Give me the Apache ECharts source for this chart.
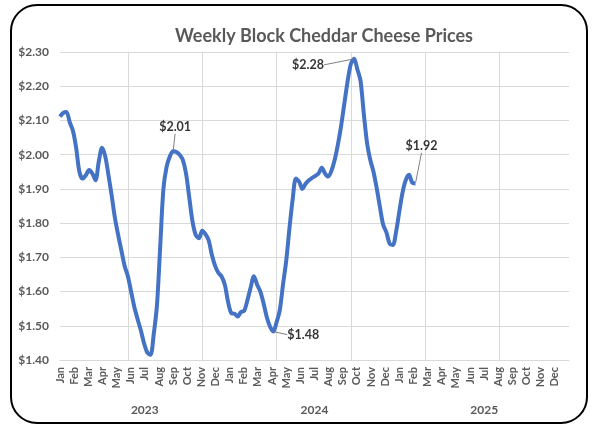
<!DOCTYPE html>
<html>
<head>
<meta charset="utf-8">
<script src="https://cdn.jsdelivr.net/npm/echarts@6/dist/echarts.min.js"></script>
<style>
html,body{margin:0;padding:0;background:#fff;}
#chart{width:600px;height:432px;}
</style>
</head>
<body>
<div id="chart"></div>
<script>
// Weekly block cheddar prices ($/lb), week 0 = first week of Jan 2023
const prices = [
  2.111,2.122,2.125,2.095,2.07,2.02,1.95,1.93,1.94,1.955,
  1.945,1.925,1.98,2.02,1.995,1.94,1.88,1.815,1.765,1.72,
  1.675,1.645,1.60,1.555,1.52,1.487,1.449,1.422,1.415,1.475,
  1.56,1.73,1.90,1.965,1.995,2.01,2.008,2.00,1.985,1.945,
  1.875,1.805,1.765,1.756,1.778,1.768,1.75,1.707,1.675,1.655,
  1.644,1.62,1.57,1.537,1.535,1.527,1.54,1.544,1.575,1.612,
  1.645,1.62,1.60,1.565,1.525,1.497,1.483,1.51,1.545,1.62,
  1.69,1.785,1.87,1.93,1.921,1.90,1.915,1.925,1.932,1.938,
  1.945,1.962,1.945,1.936,1.953,1.985,2.03,2.085,2.15,2.215,
  2.265,2.28,2.25,2.215,2.12,2.035,1.985,1.95,1.902,1.847,
  1.795,1.773,1.74,1.736,1.775,1.834,1.89,1.926,1.941,1.918,
  1.916
];
const monthNames = ['Jan','Feb','Mar','Apr','May','Jun','Jul','Aug','Sep','Oct','Nov','Dec'];
const years = ['2023','2024','2025'];
const labelledWeeks = [35, 66, 91, 110];
const yTicks = [1.40,1.50,1.60,1.70,1.80,1.90,2.00,2.10,2.20,2.30];

// layout / style settings
const WEEK_SPAN = 157.5;            // weeks covered by the 36-month axis
const labelOffsets = [[2,-24],[30,3],[-46,6],[6,-37]];
const gridFirst = 21, gridStep = 23; // vertical gridline placement (weeks)
const gridWeeks = [];
for (let g = gridFirst; g < WEEK_SPAN; g += gridStep) gridWeeks.push(g);

const lineData = prices.map((v, i) => [i, v]);
const pointData = labelledWeeks.map(i => [i, prices[i]]);

const chart = echarts.init(document.getElementById('chart'));
const grey = '#595959';
const font = 'Lato';

chart.setOption({
  backgroundColor: '#ffffff',
  animation: false,
  textStyle: { fontFamily: font },
  title: {
    text: 'Weekly Block Cheddar Cheese Prices',
    left: 170, top: 22,
    textStyle: { fontFamily: font, fontSize: 18, fontWeight: 'bold', color: grey }
  },
  graphic: [{
    type: 'rect', silent: true, z: -1,
    shape: { x: 11, y: 5, width: 576, height: 418, r: 26 },
    style: { fill: 'none', stroke: '#000', lineWidth: 2 }
  }],
  grid: { left: 60, right: 31, top: 52, bottom: 72, containLabel: false },
  xAxis: [
    { // data axis (weeks)
      type: 'value', min: 0, max: WEEK_SPAN, show: false
    },
    { // month labels
      type: 'value', min: 0, max: 36, interval: 1, position: 'bottom',
      axisLine: { show: true, lineStyle: { color: '#d9d9d9', width: 1 } },
      axisTick: { show: false },
      splitLine: { show: false },
      axisLabel: {
        rotate: 90, margin: 7, fontSize: 11, fontWeight: 'bold', color: grey,
        fontFamily: font, hideOverlap: false,
        formatter: v => (v < 36 ? monthNames[v % 12] : '')
      }
    },
    { // year labels
      type: 'category', data: years, boundaryGap: true, position: 'bottom',
      axisLine: { show: false }, axisTick: { show: false }, splitLine: { show: false },
      axisLabel: { margin: 44, fontSize: 12, fontWeight: 'bold', color: grey, fontFamily: font }
    },
    { // vertical gridlines
      type: 'value', min: 0, max: WEEK_SPAN, position: 'bottom',
      axisLine: { show: false },
      axisTick: { show: false, customValues: gridWeeks },
      axisLabel: { show: false, customValues: gridWeeks },
      splitLine: { show: true, lineStyle: { color: '#d9d9d9', width: 1 } }
    }
  ],
  yAxis: {
    type: 'value', min: yTicks[0], max: yTicks[yTicks.length - 1], interval: 0.1,
    axisLine: { show: false }, axisTick: { show: false },
    splitLine: { show: true, lineStyle: { color: '#d9d9d9', width: 1 } },
    axisLabel: {
      margin: 11, fontSize: 12, fontWeight: 'bold', color: grey, fontFamily: font,
      formatter: v => '$' + v.toFixed(2)
    }
  },
  series: [
    {
      type: 'line', xAxisIndex: 0, data: lineData, showSymbol: false,
      smooth: 0.3, z: 3,
      lineStyle: { color: '#4472C4', width: 4 },
      itemStyle: { color: '#4472C4' }
    },
    {
      type: 'scatter', xAxisIndex: 0, data: pointData, symbolSize: 2, z: 4,
      itemStyle: { color: 'rgba(0,0,0,0)' },
      label: {
        show: true, position: 'inside', fontSize: 12.5, fontWeight: 'bold',
        color: '#000', fontFamily: font,
        formatter: p => '$' + p.value[1].toFixed(2)
      },
      labelLine: { show: true, lineStyle: { color: '#7f7f7f', width: 1 } },
      labelLayout: p => ({ dx: labelOffsets[p.dataIndex][0], dy: labelOffsets[p.dataIndex][1] })
    }
  ]
});
</script>
</body>
</html>
